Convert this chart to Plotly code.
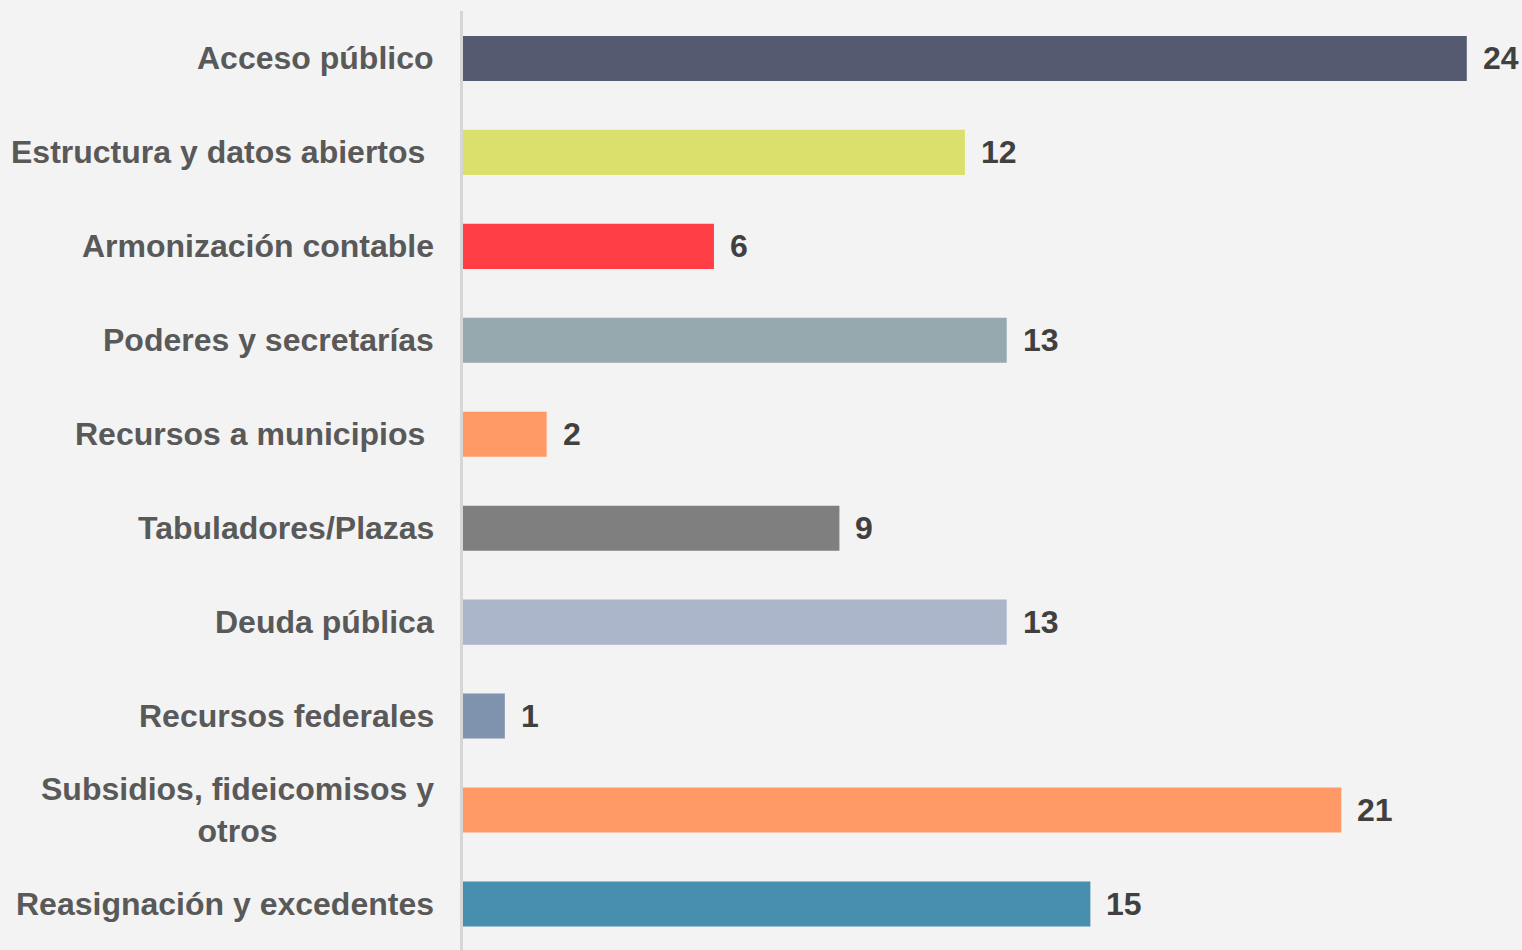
import plotly.graph_objects as go

categories = [
    "Acceso público",
    "Estructura y datos abiertos\u00a0",
    "Armonización contable",
    "Poderes y secretarías",
    "Recursos a municipios\u00a0",
    "Tabuladores/Plazas",
    "Deuda pública",
    "Recursos federales",
    "Subsidios, fideicomisos y<br>otros",
    "Reasignación y excedentes",
]
values = [24, 12, 6, 13, 2, 9, 13, 1, 21, 15]
colors = ["#545B70", "#DAE06B", "#FF3F45", "#95A9AF", "#FF9966",
          "#7F7F7F", "#ABB6CA", "#7F93AF", "#FF9966", "#488EAE"]

FONT = "Liberation Sans, Arial, sans-serif"

fig = go.Figure()
fig.add_trace(go.Bar(
    x=values,
    y=list(range(len(categories))),
    orientation="h",
    marker=dict(color=colors, line=dict(width=0)),
    width=0.48,
    hoverinfo="skip",
))

annotations = []
for i, (c, v) in enumerate(zip(categories, values)):
    annotations.append(dict(
        x=-0.0252, xref="paper", y=i, yref="y",
        text=c, showarrow=False, xanchor="right", yanchor="middle",
        align="center",
        font=dict(family=FONT, size=32, color="#595959", weight="bold"),
    ))
    annotations.append(dict(
        x=v, xref="x", y=i, yref="y",
        text=str(v), showarrow=False, xanchor="left", yanchor="middle",
        xshift=14,
        font=dict(family=FONT, size=32, color="#404040", weight="bold"),
    ))

fig.update_layout(
    width=1522, height=950,
    margin=dict(l=463, r=0, t=11, b=0),
    paper_bgcolor="#F3F3F3",
    plot_bgcolor="rgba(0,0,0,0)",
    showlegend=False,
    annotations=annotations,
    xaxis=dict(range=[0, 25.32], visible=False, fixedrange=True),
    yaxis=dict(
        range=[9.49, -0.505], showticklabels=False, showgrid=False,
        zeroline=False, showline=True, linecolor="#D6D6D6", linewidth=3,
        ticks="", fixedrange=True,
    ),
)

fig.write_html(
    "out.html",
    config={"displayModeBar": False},
    post_script=(
        "document.body.style.margin='0';"
        "document.body.style.overflow='hidden';"
        "document.body.style.background='#F3F3F3';"
    ),
)
